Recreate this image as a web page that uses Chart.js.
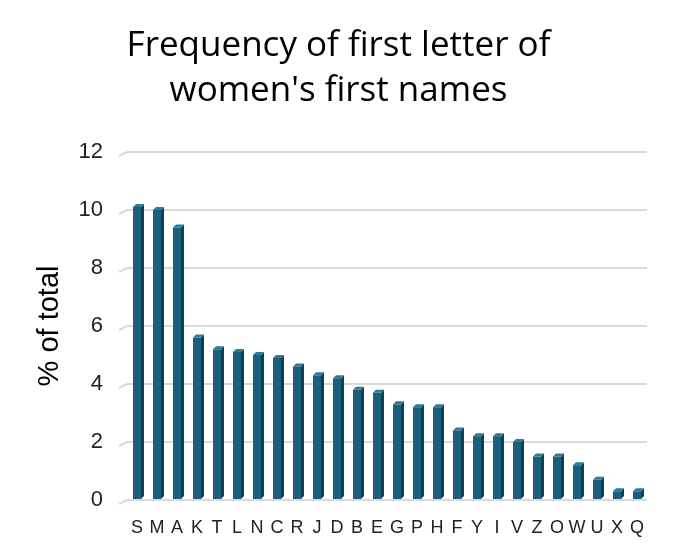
<!DOCTYPE html>
<html>
<head>
<meta charset="utf-8">
<script src="https://cdn.jsdelivr.net/npm/chart.js@4/dist/chart.umd.min.js"></script>
<style>
  html, body { margin: 0; padding: 0; background: #fff; }
  #chart { display: block; }
</style>
</head>
<body>
<canvas id="chart" width="683" height="555"></canvas>
<script>
// first letters, sorted by share
const letters = ['S', 'M', 'A', 'K', 'T', 'L', 'N', 'C', 'R', 'J', 'D', 'B', 'E',
                 'G', 'P', 'H', 'F', 'Y', 'I', 'V', 'Z', 'O', 'W', 'U', 'X', 'Q'];
const percents = [10.1, 10.0, 9.4, 5.6, 5.2, 5.1, 5.0, 4.9, 4.6, 4.3, 4.2, 3.8, 3.7,
                  3.3, 3.2, 3.2, 2.4, 2.2, 2.2, 2.0, 1.5, 1.5, 1.2, 0.7, 0.3, 0.3];
const yTicks = [0, 2, 4, 6, 8, 10, 12];

const titleLines = ['Frequency of first letter of', "women's first names"];
const yTitle = '% of total';

const barColor = '#1a5f7b';
const sideColor = '#0e3f53';
const topColor = '#2f7a96';
const depth = 3;

// fake the 3d look: side and top faces on each bar, slanted stubs on grid
const bar3d = {
    id: 'bar3d',
    beforeDatasetsDraw(chart) {
        const ctx = chart.ctx;
        const y = chart.scales.y;
        const left = chart.chartArea.left;
        ctx.save();
        ctx.strokeStyle = '#d9d9d9';
        ctx.lineWidth = 2;
        yTicks.forEach(function (t) {
            const py = y.getPixelForValue(t);
            ctx.beginPath();
            ctx.moveTo(left - 8, py + 4);
            ctx.lineTo(left, py);
            ctx.stroke();
        });
        ctx.restore();
    },
    afterDatasetsDraw(chart) {
        const ctx = chart.ctx;
        const meta = chart.getDatasetMeta(0);
        ctx.save();
        meta.data.forEach(function (bar) {
            const r = bar.x + bar.width / 2;
            const l = bar.x - bar.width / 2;
            ctx.fillStyle = sideColor;
            ctx.beginPath();
            ctx.moveTo(r, bar.y);
            ctx.lineTo(r + depth, bar.y - depth);
            ctx.lineTo(r + depth, bar.base - depth);
            ctx.lineTo(r, bar.base);
            ctx.closePath();
            ctx.fill();
            ctx.fillStyle = topColor;
            ctx.beginPath();
            ctx.moveTo(l, bar.y);
            ctx.lineTo(l + depth, bar.y - depth);
            ctx.lineTo(r + depth, bar.y - depth);
            ctx.lineTo(r, bar.y);
            ctx.closePath();
            ctx.fill();
        });
        ctx.restore();
    }
};

const ctx = document.getElementById('chart');
const myChart = new Chart(ctx, {
    type: 'bar',
    data: {
        labels: letters,
        datasets: [{
            label: yTitle,
            data: percents,
            backgroundColor: barColor,
            borderWidth: 0,
            barPercentage: 0.8,
            categoryPercentage: 0.5
        }]
    },
    options: {
        responsive: false,
        animation: false,
        layout: { padding: { left: 30, right: 36, top: 0, bottom: 0 } },
        plugins: {
            legend: { display: false },
            tooltip: { enabled: false },
            title: {
                display: true,
                text: titleLines,
                color: '#000',
                font: { family: 'Open Sans', size: 35, weight: 'normal', lineHeight: 1.3 },
                padding: { top: 23, bottom: 38 }
            }
        },
        scales: {
            x: {
                grid: { display: false },
                border: { display: false },
                ticks: {
                    color: '#222',
                    font: { family: 'Liberation Sans', size: 18 },
                    maxRotation: 0,
                    autoSkip: false,
                    padding: 9
                },
                afterFit: function (scale) { scale.height = 55; }
            },
            y: {
                min: 0,
                max: 12,
                afterBuildTicks: function (scale) {
                    scale.ticks = yTicks.map(function (v) { return { value: v }; });
                },
                grid: { color: '#d9d9d9', lineWidth: 2, drawTicks: false },
                border: { display: false },
                ticks: {
                    color: '#222',
                    font: { family: 'Liberation Sans', size: 22 },
                    padding: 24
                },
                title: {
                    display: true,
                    text: yTitle,
                    color: '#000',
                    font: { family: 'Liberation Sans', size: 29 },
                    padding: { top: 3, bottom: 4 }
                },
                afterFit: function (scale) { scale.width = 97; }
            }
        }
    },
    plugins: [bar3d]
});
</script>
</body>
</html>
